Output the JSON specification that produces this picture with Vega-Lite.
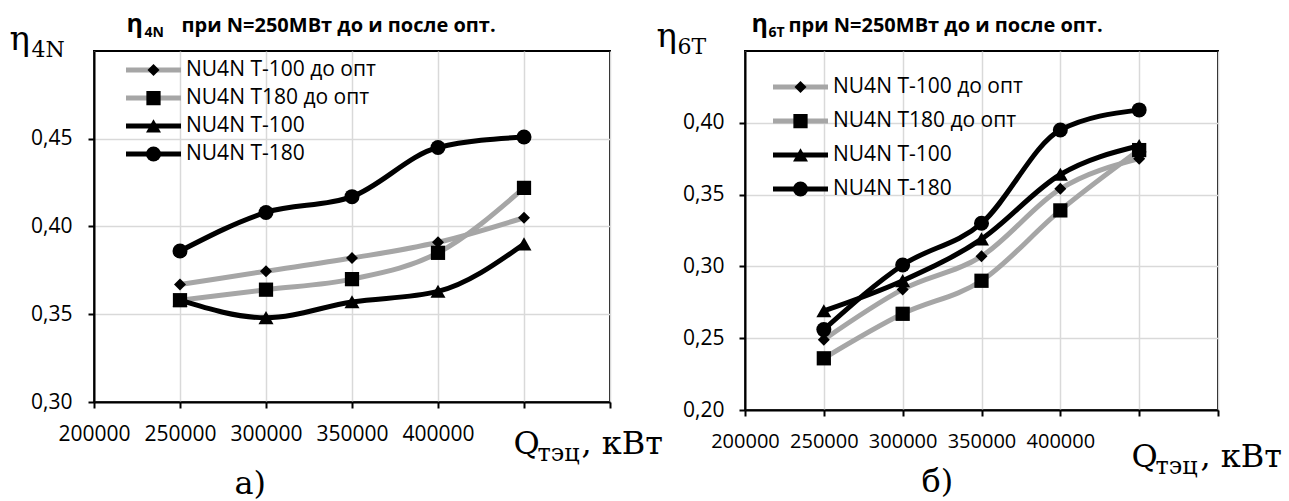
{
  "$schema": "https://vega.github.io/schema/vega-lite/v6.json",
  "autosize": {"type": "pad"},
  "padding": {"left": 8, "top": 10, "right": 0, "bottom": 0},
  "background": "white",
  "config": {
    "view": {"stroke": "black", "strokeWidth": 2},
    "axis": {
      "labelFont": "Open Sans", "labelFontSize": 21, "labelColor": "black", "labelOverlap": false, "labelFlush": false,
      "domainColor": "black", "domainWidth": 2,
      "tickColor": "black", "tickWidth": 2, "tickSize": 6,
      "gridColor": "#d9d9d9", "gridWidth": 1.5,
      "titleColor": "black", "titleFont": "DejaVu Serif", "titleFontSize": 32, "titleFontWeight": "normal",
      "titlePadding": 0, "titleAngle": 0, "titleAlign": "left", "titleBaseline": "alphabetic"
    },
    "legend": {"labelFont": "Open Sans", "labelFontSize": 21, "labelColor": "black", "labelLimit": 0, "padding": 0, "title": null}
  },
  "datasets": {
    "a": [
      {"Q": 250000, "series": "NU4N T-100 до опт", "eta": 0.367},
      {"Q": 300000, "series": "NU4N T-100 до опт", "eta": 0.3745},
      {"Q": 350000, "series": "NU4N T-100 до опт", "eta": 0.382},
      {"Q": 400000, "series": "NU4N T-100 до опт", "eta": 0.391},
      {"Q": 450000, "series": "NU4N T-100 до опт", "eta": 0.405},
      {"Q": 250000, "series": "NU4N T180 до опт", "eta": 0.358},
      {"Q": 300000, "series": "NU4N T180 до опт", "eta": 0.364},
      {"Q": 350000, "series": "NU4N T180 до опт", "eta": 0.370},
      {"Q": 400000, "series": "NU4N T180 до опт", "eta": 0.385},
      {"Q": 450000, "series": "NU4N T180 до опт", "eta": 0.422},
      {"Q": 250000, "series": "NU4N T-100", "eta": 0.358},
      {"Q": 300000, "series": "NU4N T-100", "eta": 0.348},
      {"Q": 350000, "series": "NU4N T-100", "eta": 0.357},
      {"Q": 400000, "series": "NU4N T-100", "eta": 0.363},
      {"Q": 450000, "series": "NU4N T-100", "eta": 0.390},
      {"Q": 250000, "series": "NU4N T-180", "eta": 0.386},
      {"Q": 300000, "series": "NU4N T-180", "eta": 0.408},
      {"Q": 350000, "series": "NU4N T-180", "eta": 0.417},
      {"Q": 400000, "series": "NU4N T-180", "eta": 0.445},
      {"Q": 450000, "series": "NU4N T-180", "eta": 0.451}
    ],
    "b": [
      {"Q": 250000, "series": "NU4N T-100 до опт", "eta": 0.249},
      {"Q": 300000, "series": "NU4N T-100 до опт", "eta": 0.284},
      {"Q": 350000, "series": "NU4N T-100 до опт", "eta": 0.307},
      {"Q": 400000, "series": "NU4N T-100 до опт", "eta": 0.354},
      {"Q": 450000, "series": "NU4N T-100 до опт", "eta": 0.375},
      {"Q": 250000, "series": "NU4N T180 до опт", "eta": 0.236},
      {"Q": 300000, "series": "NU4N T180 до опт", "eta": 0.267},
      {"Q": 350000, "series": "NU4N T180 до опт", "eta": 0.290},
      {"Q": 400000, "series": "NU4N T180 до опт", "eta": 0.339},
      {"Q": 450000, "series": "NU4N T180 до опт", "eta": 0.381},
      {"Q": 250000, "series": "NU4N T-100", "eta": 0.269},
      {"Q": 300000, "series": "NU4N T-100", "eta": 0.290},
      {"Q": 350000, "series": "NU4N T-100", "eta": 0.319},
      {"Q": 400000, "series": "NU4N T-100", "eta": 0.364},
      {"Q": 450000, "series": "NU4N T-100", "eta": 0.384},
      {"Q": 250000, "series": "NU4N T-180", "eta": 0.256},
      {"Q": 300000, "series": "NU4N T-180", "eta": 0.301},
      {"Q": 350000, "series": "NU4N T-180", "eta": 0.330},
      {"Q": 400000, "series": "NU4N T-180", "eta": 0.395},
      {"Q": 450000, "series": "NU4N T-180", "eta": 0.409}
    ]
  },
  "spacing": 135,
  "bounds": "flush",
  "resolve": {
    "scale": {"color": "independent", "shape": "independent"},
    "legend": {"color": "independent", "shape": "independent"}
  },
  "hconcat": [
    {
      "width": 516, "height": 351,
      "data": {"name": "a"},
      "resolve": {"axis": {"x": "independent", "y": "independent"}},
      "layer": [
        {
          "mark": {"type": "line", "interpolate": "monotone", "strokeWidth": 5},
          "encoding": {
            "x": {"field": "Q", "type": "quantitative",
              "scale": {"domain": [200000, 500000], "nice": false, "zero": false},
              "axis": {"orient": "bottom", "values": [200000, 250000, 300000, 350000, 400000, 450000, 500000],
                "format": "d", "labelExpr": "datum.value <= 400000 ? datum.label : ''", "labelPadding": 15,
                "title": "Q", "titleX": 419, "titleY": 51}},
            "y": {"field": "eta", "type": "quantitative",
              "scale": {"domain": [0.3, 0.5], "nice": false, "zero": false},
              "axis": {"orient": "left", "values": [0.3, 0.35, 0.4, 0.45],
                "labelExpr": "replace(format(datum.value, '.2f'), '.', ',')", "labelPadding": 16,
                "title": "η", "titleFontSize": 34, "titleX": -85, "titleY": -2}},
            "color": {"field": "series", "type": "nominal",
              "scale": {"domain": ["NU4N T-100 до опт", "NU4N T180 до опт", "NU4N T-100", "NU4N T-180"],
                "range": ["#a6a6a6", "#a6a6a6", "#000000", "#000000"]},
              "legend": {"orient": "none", "legendX": 29.5, "legendY": 8, "symbolType": "stroke",
                "symbolSize": 3025, "symbolStrokeWidth": 5, "clipHeight": 22, "rowPadding": 6, "labelOffset": 2.5}}
          }
        },
        {
          "mark": {"type": "point", "filled": true, "color": "black", "opacity": 1, "size": 225},
          "encoding": {
            "x": {"field": "Q", "type": "quantitative",
              "axis": {"orient": "bottom", "domain": false, "ticks": false, "labels": false, "grid": false,
                "title": "тэц", "titleFontSize": 24, "titleX": 443, "titleY": 58}},
            "y": {"field": "eta", "type": "quantitative",
              "axis": {"orient": "left", "domain": false, "ticks": false, "labels": false, "grid": false,
                "title": "4N", "titleFontSize": 22, "titleX": -63, "titleY": 5}},
            "shape": {"field": "series", "type": "nominal",
              "sort": ["NU4N T-100 до опт", "NU4N T180 до опт", "NU4N T-100", "NU4N T-180"],
              "scale": {"range": ["M0,-0.8L0.8,0L0,0.8L-0.8,0Z", "M-0.95,-0.95H0.95V0.95H-0.95Z", "M0,-0.9L1,0.85H-1Z", "circle"]},
              "legend": {"orient": "none", "legendX": 29.5, "legendY": 8, "symbolSize": 225,
                "symbolFillColor": "black", "symbolStrokeWidth": 0, "symbolOpacity": 1, "clipHeight": 22, "rowPadding": 6,
                "symbolOffset": 19.5, "labelExpr": "''"}}
          }
        },
        {
          "mark": {"type": "point", "opacity": 0},
          "encoding": {
            "x": {"field": "Q", "type": "quantitative",
              "axis": {"orient": "bottom", "domain": false, "ticks": false, "labels": false, "grid": false,
                "title": ", кВт", "titleX": 487, "titleY": 51}},
            "y": {"field": "eta", "type": "quantitative",
              "axis": {"orient": "left", "domain": false, "ticks": false, "labels": false, "grid": false,
                "title": "а)", "titleX": 140, "titleY": 442}}
          }
        },
        {
          "mark": {"type": "point", "opacity": 0},
          "encoding": {
            "x": {"field": "Q", "type": "quantitative",
              "axis": {"orient": "top", "domain": false, "ticks": false, "labels": false, "grid": false,
                "title": "η", "titleFont": "Open Sans", "titleFontWeight": "bold", "titleFontSize": 25,
                "titleX": 32, "titleY": -20}},
            "y": {"field": "eta", "type": "quantitative",
              "axis": {"orient": "left", "domain": false, "ticks": false, "labels": false, "grid": false,
                "title": "4N", "titleFont": "Open Sans", "titleFontWeight": "bold", "titleFontSize": 14,
                "titleX": 50, "titleY": -15}}
          }
        },
        {
          "mark": {"type": "point", "opacity": 0},
          "encoding": {
            "x": {"field": "Q", "type": "quantitative",
              "axis": {"orient": "top", "domain": false, "ticks": false, "labels": false, "grid": false,
                "title": "при N=250МВт до и после опт.", "titleFont": "Open Sans", "titleFontWeight": "bold",
                "titleFontSize": 20, "titleX": 87, "titleY": -20}},
            "y": {"field": "eta", "type": "quantitative", "axis": null}
          }
        }
      ]
    },
    {
      "width": 473, "height": 359,
      "data": {"name": "b"},
      "resolve": {"axis": {"x": "independent", "y": "independent"}},
      "layer": [
        {
          "mark": {"type": "line", "interpolate": "monotone", "strokeWidth": 5},
          "encoding": {
            "x": {"field": "Q", "type": "quantitative",
              "scale": {"domain": [200000, 500000], "nice": false, "zero": false},
              "axis": {"orient": "bottom", "values": [200000, 250000, 300000, 350000, 400000, 450000, 500000],
                "format": "d", "labelExpr": "datum.value <= 400000 ? datum.label : ''", "labelPadding": 15,
                "labelFontSize": 20, "title": "Q", "titleX": 386, "titleY": 56}},
            "y": {"field": "eta", "type": "quantitative",
              "scale": {"domain": [0.2, 0.45], "nice": false, "zero": false},
              "axis": {"orient": "left", "values": [0.2, 0.25, 0.3, 0.35, 0.4],
                "labelExpr": "replace(format(datum.value, '.2f'), '.', ',')", "labelPadding": 15,
                "title": "η", "titleFontSize": 34, "titleX": -89, "titleY": -5}},
            "color": {"field": "series", "type": "nominal",
              "scale": {"domain": ["NU4N T-100 до опт", "NU4N T180 до опт", "NU4N T-100", "NU4N T-180"],
                "range": ["#a6a6a6", "#a6a6a6", "#000000", "#000000"]},
              "legend": {"orient": "none", "legendX": 25.5, "legendY": 25, "symbolType": "stroke",
                "symbolSize": 3025, "symbolStrokeWidth": 5, "clipHeight": 22, "rowPadding": 12, "labelOffset": 2.5}}
          }
        },
        {
          "mark": {"type": "point", "filled": true, "color": "black", "opacity": 1, "size": 225},
          "encoding": {
            "x": {"field": "Q", "type": "quantitative",
              "axis": {"orient": "bottom", "domain": false, "ticks": false, "labels": false, "grid": false,
                "title": "тэц", "titleFontSize": 24, "titleX": 410, "titleY": 63}},
            "y": {"field": "eta", "type": "quantitative",
              "axis": {"orient": "left", "domain": false, "ticks": false, "labels": false, "grid": false,
                "title": "6T", "titleFontSize": 22, "titleX": -68, "titleY": 2}},
            "shape": {"field": "series", "type": "nominal",
              "sort": ["NU4N T-100 до опт", "NU4N T180 до опт", "NU4N T-100", "NU4N T-180"],
              "scale": {"range": ["M0,-0.8L0.8,0L0,0.8L-0.8,0Z", "M-0.95,-0.95H0.95V0.95H-0.95Z", "M0,-0.9L1,0.85H-1Z", "circle"]},
              "legend": {"orient": "none", "legendX": 25.5, "legendY": 25, "symbolSize": 225,
                "symbolFillColor": "black", "symbolStrokeWidth": 0, "symbolOpacity": 1, "clipHeight": 22, "rowPadding": 12,
                "symbolOffset": 19.5, "labelExpr": "''"}}
          }
        },
        {
          "mark": {"type": "point", "opacity": 0},
          "encoding": {
            "x": {"field": "Q", "type": "quantitative",
              "axis": {"orient": "bottom", "domain": false, "ticks": false, "labels": false, "grid": false,
                "title": ", кВт", "titleX": 455, "titleY": 56}},
            "y": {"field": "eta", "type": "quantitative",
              "axis": {"orient": "left", "domain": false, "ticks": false, "labels": false, "grid": false,
                "title": "б)", "titleX": 176, "titleY": 440}}
          }
        },
        {
          "mark": {"type": "point", "opacity": 0},
          "encoding": {
            "x": {"field": "Q", "type": "quantitative",
              "axis": {"orient": "top", "domain": false, "ticks": false, "labels": false, "grid": false,
                "title": "η", "titleFont": "Open Sans", "titleFontWeight": "bold", "titleFontSize": 25,
                "titleX": 6, "titleY": -20}},
            "y": {"field": "eta", "type": "quantitative",
              "axis": {"orient": "left", "domain": false, "ticks": false, "labels": false, "grid": false,
                "title": "6T", "titleFont": "Open Sans", "titleFontWeight": "bold", "titleFontSize": 14,
                "titleX": 23, "titleY": -15}}
          }
        },
        {
          "mark": {"type": "point", "opacity": 0},
          "encoding": {
            "x": {"field": "Q", "type": "quantitative",
              "axis": {"orient": "top", "domain": false, "ticks": false, "labels": false, "grid": false,
                "title": "при N=250МВт до и после опт.", "titleFont": "Open Sans", "titleFontWeight": "bold",
                "titleFontSize": 20, "titleX": 43, "titleY": -20}},
            "y": {"field": "eta", "type": "quantitative", "axis": null}
          }
        }
      ]
    }
  ]
}
